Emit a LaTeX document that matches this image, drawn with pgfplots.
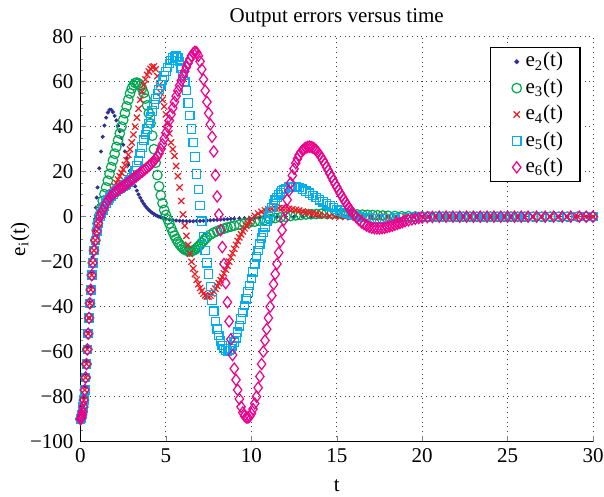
\documentclass[border=0pt]{standalone}
\usepackage{fontspec}
\setmainfont{Liberation Serif}
\usepackage{pgfplots}
\pgfplotsset{compat=1.18}

\definecolor{ctwo}{RGB}{46,49,146}
\definecolor{cthree}{RGB}{0,166,81}
\definecolor{cfour}{RGB}{237,28,36}
\definecolor{cfive}{RGB}{0,174,239}
\definecolor{csix}{RGB}{236,0,140}

\begin{document}
\begin{tikzpicture}[font=\fontsize{10.5}{12.6}\selectfont]
\path[use as bounding box] (0,0) rectangle (302pt,248.5pt);
\begin{axis}[
  at={(40.25pt,27.65pt)}, anchor=south west,
  scale only axis, width=256.25pt, height=202.5pt,
  xmin=0, xmax=30, ymin=-100, ymax=80,
  clip=false,
  axis x line*=bottom, axis y line*=left,
  tick pos=left, tick align=inside,
  major tick length=3pt, minor tick length=1.5pt,
  xtick={0,5,...,30}, xticklabels={0,5,10,15,20,25,30},
  ytick={-100,-80,...,80},
  yticklabels={−100,−80,−60,−40,−20,0,20,40,60,80},
  minor y tick num=3,
  grid=major, major grid style={dotted, black!75, line width=0.45pt},
  axis line style={black, line width=0.6pt},
  title={Output errors versus time},
  title style={at={(axis description cs:0.5,1.0164)}, anchor=center},
  xlabel={t},
  xlabel style={at={(axis description cs:0.5,-0.109)}, anchor=center},
  ylabel={e\textsubscript{i}(t)},
  ylabel style={at={(axis description cs:-0.118,0.5)}, anchor=center},
  legend style={at={(0.976,0.975)}, anchor=north east, draw=black,
    line width=0.7pt, inner xsep=6.5pt, inner ysep=0.5pt,
    nodes={inner xsep=2pt, inner ysep=1.5pt, text height=7.7pt, text depth=2.5pt}},
  legend cell align={left},
  legend image code/.code={%
    \path[draw=none, fill=none] (0pt,0pt) rectangle (8pt,0pt);
    \draw[#1] plot[only marks] coordinates {(6.5pt,0pt)};},
]
% e2
\addplot[only marks, mark=*, mark size=0.8pt, color=ctwo] coordinates {
(0,-90) (0.05,-89.3) (0.1,-87.5) (0.15,-84.5) (0.2,-80.5) (0.25,-75.5) (0.3,-70) (0.35,-64)
(0.4,-58) (0.45,-51.5) (0.5,-45) (0.55,-38) (0.6,-31) (0.65,-24.5) (0.7,-18) (0.75,-12)
(0.8,-6) (0.85,-1) (0.9,4) (0.95,8.5) (1.0,13) (1.1,21.5) (1.2,29) (1.3,35.5) (1.4,40.5)
(1.5,44) (1.6,46.3) (1.7,47.5) (1.8,47.5) (1.9,46.5) (2.0,44.8) (2.1,42.8) (2.2,40.5)
(2.3,38) (2.4,35) (2.5,32) (2.6,29) (2.7,26) (2.8,23) (2.9,20.5) (3.0,18) (3.1,15.7)
(3.2,13.5) (3.3,11.6) (3.4,9.9) (3.5,8.4) (3.6,7) (3.7,5.8) (3.8,4.7) (3.9,3.8) (4.0,3)
(4.1,2.3) (4.2,1.7) (4.3,1.2) (4.4,0.7) (4.5,0.3) (4.6,0) (4.7,-0.3) (4.8,-0.6) (4.9,-0.8)
(5.0,-1) (5.2,-1.3) (5.4,-1.5) (5.6,-1.7) (5.8,-1.8) (6.0,-1.9) (6.2,-2) (6.4,-2) (6.6,-2)
(6.8,-1.9) (7.0,-1.9) (7.2,-1.8) (7.4,-1.7) (7.6,-1.6) (7.8,-1.5) (8.0,-1.4) (8.2,-1.3)
(8.4,-1.2) (8.6,-1.1) (8.8,-1) (9.0,-0.9) (9.3,-0.8) (9.6,-0.7) (9.9,-0.6) (10.2,-0.5)
(10.5,-0.4) (10.8,-0.3) (11.1,-0.2) (11.5,-0.1) (12,0) (12.5,0) (13,0) (13.5,0) (14,0)
(14.5,0) (15,0) (15.5,0) (16,0) (16.5,0) (17,0) (17.5,0) (18,0) (18.5,0) (19,0) (19.5,0)
(20,0) (20.4,0) (20.8,0) (21.2,0) (21.6,0) (22.0,0) (22.4,0) (22.8,0) (23.2,0) (23.6,0)
(24.0,0) (24.4,0) (24.8,0) (25.2,0) (25.6,0) (26.0,0) (26.5,0) (27.0,0) (27.5,0) (28.0,0)
(28.5,0) (29.1,0) (29.6,0) (30,0)
};
\addlegendentry{e\textsubscript{2}(t)}
% e3
\addplot[only marks, mark=o, mark size=2.4pt, color=cthree, mark options={line width=0.6pt}] coordinates {
(0,-90) (0.03,-89.7) (0.06,-89) (0.09,-88) (0.12,-86.7) (0.16,-84.5) (0.2,-81.5) (0.25,-77)
(0.3,-71.5) (0.35,-65.5) (0.4,-59) (0.45,-52) (0.5,-45) (0.55,-38.5) (0.6,-32.5) (0.66,-26)
(0.72,-20.5) (0.79,-15) (0.87,-10.5) (0.95,-6) (1.0,-3) (1.1,0.5) (1.2,3.8) (1.3,7) (1.4,10)
(1.5,13) (1.6,16) (1.7,19) (1.8,22) (1.9,25) (2.0,28) (2.1,31) (2.2,34) (2.3,37) (2.4,40)
(2.5,43) (2.6,46) (2.7,49) (2.8,52) (2.9,54.8) (3.0,57) (3.1,58.5) (3.2,59.4) (3.3,59.6)
(3.4,59.2) (3.5,58.3) (3.6,57) (3.7,55) (3.8,52.5) (3.9,49.5) (4.0,46) (4.1,41.5) (4.2,36)
(4.3,30) (4.4,24) (4.5,18.5) (4.6,13.5) (4.7,9.5) (4.8,6) (4.9,3) (5.0,0.8) (5.1,-1.2)
(5.2,-3) (5.3,-5) (5.4,-6.8) (5.5,-8.4) (5.6,-9.9) (5.7,-11.2) (5.8,-12.3) (5.9,-13.2)
(6.0,-14) (6.1,-14.6) (6.2,-15) (6.3,-15.3) (6.4,-15.4) (6.5,-15.3) (6.6,-15) (6.7,-14.6)
(6.8,-14) (6.9,-13.3) (7.0,-12.5) (7.1,-11.6) (7.2,-10.7) (7.3,-9.9) (7.4,-9.1) (7.6,-8)
(7.8,-7.1) (8.0,-6.4) (8.2,-5.8) (8.4,-5.3) (8.6,-4.8) (8.8,-4.4) (9.0,-4) (9.3,-3.5)
(9.6,-3) (9.9,-2.6) (10.2,-2.2) (10.5,-1.8) (10.8,-1.4) (11.1,-1) (11.4,-0.6) (11.7,-0.3)
(12.0,0) (12.3,0.3) (12.6,0.6) (12.9,0.8) (13.2,1) (13.5,1.1) (13.8,1.2) (14.1,1.3)
(14.4,1.3) (14.7,1.3) (15.0,1.3) (15.3,1.2) (15.6,1.2) (15.9,1.1) (16.2,1) (16.5,0.9)
(16.8,0.8) (17.1,0.7) (17.4,0.6) (17.7,0.5) (18.0,0.4) (18.4,0.3) (18.8,0.2) (19.2,0.2)
(19.6,0.1) (20,0.1) (20.4,0) (20.8,0) (21.2,0) (21.6,0) (22.0,0) (22.4,0) (22.8,0) (23.2,0)
(23.6,0) (24.0,0) (24.4,0) (24.8,0) (25.2,0) (25.6,0) (26.0,0) (26.5,0) (27.0,0) (27.5,0)
(28.0,0) (28.5,0) (29.1,0) (29.6,0) (30,0)
};
\addlegendentry{e\textsubscript{3}(t)}
% e4
\addplot[only marks, mark=x, mark size=2.2pt, color=cfour, mark options={line width=0.6pt}] coordinates {
(0,-90) (0.03,-89.7) (0.06,-89) (0.09,-88) (0.12,-86.7) (0.16,-84.5) (0.2,-81.5) (0.25,-77)
(0.3,-71.5) (0.35,-65.5) (0.4,-59) (0.45,-52) (0.5,-45) (0.55,-38.5) (0.6,-32.5) (0.66,-26)
(0.72,-20.5) (0.79,-15) (0.87,-10.5) (0.95,-6.5) (1.04,-3) (1.14,0) (1.2,1.5) (1.3,3)
(1.4,4.5) (1.5,6) (1.6,7.5) (1.7,9) (1.8,10.5) (1.9,12) (2.0,13.5) (2.1,15) (2.2,16.5)
(2.3,18) (2.4,19.5) (2.5,21) (2.6,23) (2.7,25) (2.8,27.5) (2.9,30) (3.0,33) (3.1,36.5)
(3.2,40) (3.3,44) (3.4,48) (3.5,52) (3.6,55.5) (3.7,58.5) (3.8,61) (3.9,63) (4.0,64.5)
(4.1,65.7) (4.2,66.5) (4.3,66.8) (4.4,65.5) (4.5,62.5) (4.6,58.5) (4.7,55) (4.8,52) (4.9,49)
(5.0,45.5) (5.1,41.5) (5.2,37) (5.3,33) (5.4,30) (5.5,27) (5.6,22.5) (5.7,18) (5.8,13)
(5.9,7) (6.0,1) (6.1,-4) (6.2,-8.5) (6.3,-12.5) (6.4,-16.5) (6.5,-20) (6.6,-23) (6.7,-25.5)
(6.8,-28) (6.9,-30) (7.0,-31.7) (7.1,-33) (7.2,-34.2) (7.3,-35) (7.4,-35.5) (7.5,-35.5)
(7.6,-35) (7.7,-34.2) (7.8,-33.2) (7.9,-32) (8.0,-30.8) (8.1,-29.5) (8.2,-28.2) (8.3,-26.8)
(8.4,-25.2) (8.5,-23.5) (8.6,-21.8) (8.7,-20) (8.8,-18) (8.9,-16.2) (9.0,-14.3) (9.1,-12.5)
(9.2,-10.8) (9.3,-9.2) (9.4,-7.8) (9.5,-6.5) (9.6,-5.2) (9.7,-4) (9.8,-3) (9.9,-2) (10.0,-1)
(10.2,0.4) (10.4,1.4) (10.6,2.2) (10.8,2.8) (11.0,3.2) (11.2,3.5) (11.4,3.7) (11.6,3.8)
(11.8,3.8) (12.0,3.7) (12.2,3.5) (12.4,3.3) (12.6,3) (12.8,2.7) (13.0,2.3) (13.2,2)
(13.4,1.7) (13.6,1.4) (13.8,1.1) (14.0,0.8) (14.3,0.5) (14.6,0.3) (14.9,0.1) (15.2,0)
(15.5,-0.1) (15.8,-0.2) (16.1,-0.2) (16.5,-0.2) (17,-0.1) (17.5,-0.1) (18,0) (18.5,0) (19,0)
(19.5,0) (20,0) (20.4,0) (20.8,0) (21.2,0) (21.6,0) (22.0,0) (22.4,0) (22.8,0) (23.2,0)
(23.6,0) (24.0,0) (24.4,0) (24.8,0) (25.2,0) (25.6,0) (26.0,0) (26.5,0) (27.0,0) (27.5,0)
(28.0,0) (28.5,0) (29.1,0) (29.6,0) (30,0)
};
\addlegendentry{e\textsubscript{4}(t)}
% e5
\addplot[only marks, mark=square, mark size=2.1pt, color=cfive, mark options={line width=0.6pt}] coordinates {
(0,-90) (0.03,-89.7) (0.06,-89) (0.09,-88) (0.12,-86.7) (0.16,-84.5) (0.2,-81.5) (0.25,-77)
(0.3,-71.5) (0.35,-65.5) (0.4,-59) (0.45,-52) (0.5,-45) (0.55,-38.5) (0.6,-32.5) (0.66,-26)
(0.72,-20.5) (0.79,-15) (0.87,-10.5) (0.95,-6.5) (1.04,-3) (1.14,0) (1.2,1.5) (1.3,3)
(1.4,4.5) (1.5,6) (1.6,7.3) (1.7,8.4) (1.8,9.3) (1.9,10.1) (2.0,10.8) (2.1,11.4) (2.2,12)
(2.3,12.5) (2.4,13) (2.5,13.5) (2.6,14) (2.7,14.6) (2.8,15.3) (2.9,16.2) (3.0,17.3)
(3.1,18.7) (3.2,20.4) (3.3,22.5) (3.4,25) (3.5,28) (3.6,31) (3.7,34) (3.8,36.5) (3.9,39)
(4.0,41.5) (4.1,44.2) (4.2,47) (4.3,49.8) (4.4,52.3) (4.5,54.5) (4.6,56.5) (4.7,58.5)
(4.8,60.5) (4.9,62.5) (5.0,64.5) (5.1,66.3) (5.2,68) (5.3,69.5) (5.4,70.5) (5.5,71.1)
(5.6,71.3) (5.7,70.8) (5.8,69) (5.9,66) (6.0,63) (6.1,60) (6.2,56) (6.3,50.5) (6.4,45)
(6.5,39) (6.6,33) (6.7,26.5) (6.8,19) (6.9,12) (7.0,5) (7.1,-2) (7.2,-9) (7.3,-15)
(7.4,-20.5) (7.5,-25.5) (7.6,-31) (7.7,-37) (7.8,-42) (7.9,-46.5) (8.0,-50) (8.1,-52.8)
(8.2,-55.2) (8.3,-57.2) (8.4,-58.6) (8.5,-59.4) (8.6,-59.7) (8.7,-59.5) (8.8,-58.8)
(8.9,-57.5) (9.0,-55.8) (9.1,-53.8) (9.2,-51.3) (9.3,-48.5) (9.4,-45.5) (9.5,-42.5)
(9.6,-39.5) (9.7,-36.5) (9.8,-33.5) (9.9,-30.5) (10.0,-27.5) (10.1,-24.5) (10.2,-21)
(10.3,-17.8) (10.4,-15) (10.5,-12.2) (10.6,-9.5) (10.7,-7) (10.8,-4.5) (10.9,-2.2) (11.0,0)
(11.1,2.1) (11.2,4) (11.3,5.8) (11.4,7.3) (11.5,8.6) (11.6,9.7) (11.7,10.6) (11.8,11.4)
(11.9,12) (12.0,12.5) (12.2,13.1) (12.4,13.4) (12.6,13.4) (12.8,13) (13.0,12.2) (13.2,11.3)
(13.4,10.4) (13.6,9.5) (13.8,8.5) (14.0,7.5) (14.2,6.6) (14.4,5.7) (14.6,4.8) (14.8,4)
(15.0,3.2) (15.2,2.5) (15.4,1.9) (15.6,1.4) (15.8,0.9) (16.0,0.5) (16.3,0) (16.6,-0.4)
(16.9,-0.7) (17.2,-0.9) (17.5,-1) (17.8,-0.9) (18.1,-0.8) (18.4,-0.6) (18.8,-0.4) (19.2,-0.3)
(19.6,-0.2) (20,-0.1) (20.4,0) (20.8,0) (21.2,0) (21.6,0) (22.0,0) (22.4,0) (22.8,0) (23.2,0)
(23.6,0) (24.0,0) (24.4,0) (24.8,0) (25.2,0) (25.6,0) (26.0,0) (26.5,0) (27.0,0) (27.5,0)
(28.0,0) (28.5,0) (29.1,0) (29.6,0) (30,0)
};
\addlegendentry{e\textsubscript{5}(t)}
% e6
\addplot[only marks, mark=diamond, mark size=2.8pt, color=csix, mark options={line width=0.6pt}] coordinates {
(0,-90) (0.03,-89.7) (0.06,-89) (0.09,-88) (0.12,-86.7) (0.16,-84.5) (0.2,-81.5) (0.25,-77)
(0.3,-71.5) (0.35,-65.5) (0.4,-59) (0.45,-52) (0.5,-45) (0.55,-38.5) (0.6,-32.5) (0.66,-26)
(0.72,-20.5) (0.79,-15) (0.87,-10.5) (0.95,-6.5) (1.04,-3) (1.14,0) (1.2,1.5) (1.3,3)
(1.4,4.5) (1.5,6) (1.6,7.3) (1.7,8.4) (1.8,9.3) (1.9,10.1) (2.0,10.8) (2.1,11.4) (2.2,12)
(2.3,12.5) (2.4,13) (2.5,13.5) (2.6,14) (2.7,14.6) (2.8,15.2) (2.9,15.8) (3.0,16.4)
(3.1,17) (3.2,17.6) (3.3,18.2) (3.4,18.8) (3.5,19.4) (3.6,20) (3.7,20.6) (3.8,21.2)
(3.9,21.8) (4.0,22.5) (4.1,23.2) (4.2,24) (4.3,24.8) (4.4,25.7) (4.5,26.8) (4.6,28.2)
(4.7,30) (4.8,32.2) (4.9,34.7) (5.0,37.3) (5.1,40) (5.2,42.7) (5.3,45.5) (5.4,48.3)
(5.5,51) (5.6,53.6) (5.7,56) (5.8,58.3) (5.9,60.5) (6.0,62.6) (6.1,64.6) (6.2,66.5)
(6.3,68.3) (6.4,70) (6.5,71.5) (6.6,72.7) (6.7,73.3) (6.8,73) (6.9,71.5) (7.0,69)
(7.1,65.5) (7.2,61) (7.3,56) (7.4,51) (7.5,46) (7.6,41) (7.7,35.5) (7.8,29) (7.9,18.5)
(8.0,9) (8.1,1) (8.2,-6) (8.3,-13.5) (8.4,-21) (8.5,-29.5) (8.6,-38) (8.7,-46.5)
(8.8,-54.5) (8.9,-61.5) (9.0,-67.5) (9.1,-72.5) (9.2,-77) (9.3,-81) (9.4,-84.5) (9.5,-87)
(9.6,-88.5) (9.7,-89.2) (9.8,-89.3) (9.9,-88.8) (10.0,-87.5) (10.1,-85.5) (10.2,-83)
(10.3,-80) (10.4,-76) (10.5,-71) (10.6,-65.5) (10.7,-60) (10.8,-55) (10.9,-50) (11.0,-45)
(11.1,-40) (11.2,-35) (11.3,-30) (11.4,-25.5) (11.5,-21) (11.6,-16) (11.7,-11) (11.8,-6)
(11.9,-1.5) (12.0,3) (12.1,7.5) (12.2,11.5) (12.3,15) (12.4,18.3) (12.5,21.3) (12.6,23.8)
(12.7,25.8) (12.8,27.4) (12.9,28.6) (13.0,29.5) (13.1,30.2) (13.2,30.7) (13.3,31) (13.4,31.1)
(13.5,31) (13.6,30.7) (13.7,30.2) (13.8,29.5) (13.9,28.6) (14.0,27.5) (14.1,26.3) (14.2,25)
(14.3,23.6) (14.4,22.1) (14.5,20.6) (14.6,19.1) (14.7,17.6) (14.8,16.1) (14.9,14.6)
(15.0,13.2) (15.1,11.8) (15.2,10.4) (15.3,9.1) (15.4,7.8) (15.5,6.5) (15.6,5.3) (15.7,4.1)
(15.8,3) (15.9,2) (16.0,1) (16.15,-0.3) (16.3,-1.5) (16.45,-2.5) (16.6,-3.3) (16.75,-4)
(16.9,-4.5) (17.05,-4.9) (17.2,-5.1) (17.35,-5.2) (17.5,-5.2) (17.65,-5.1) (17.8,-4.9)
(17.95,-4.6) (18.1,-4.3) (18.25,-4) (18.4,-3.6) (18.55,-3.2) (18.7,-2.8) (18.85,-2.4)
(19.0,-2) (19.2,-1.6) (19.4,-1.2) (19.6,-0.9) (19.8,-0.6) (20.0,-0.4) (20.3,-0.2) (20.6,-0.1)
(21.0,0) (21.4,0) (21.8,0) (22.2,0) (22.6,0) (23.0,0) (23.4,0) (23.8,0) (24.2,0) (24.6,0)
(25.0,0) (25.4,0) (25.8,0) (26.2,0) (26.7,0) (27.2,0) (27.7,0) (28.2,0) (28.7,0) (29.2,0)
(29.6,0) (30,0)
};
\addlegendentry{e\textsubscript{6}(t)}
\end{axis}
\end{tikzpicture}
\end{document}
